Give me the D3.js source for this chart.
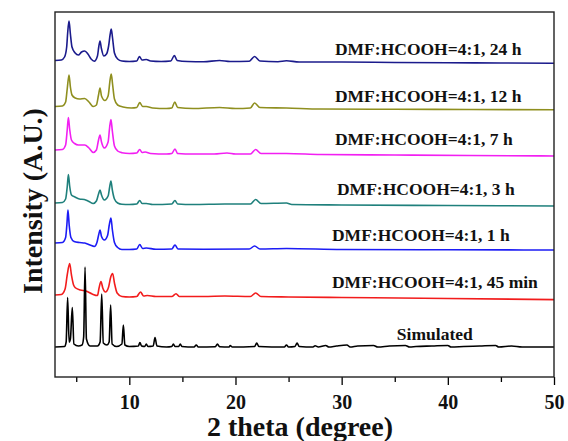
<html>
	<head>
		<meta charset="utf-8">
		<style>
			body { margin: 0; background: #fff; }
			svg text { font-family: "Liberation Serif", "Times New Roman", serif; font-weight: bold; }
		</style>
		<script type="text/javascript" src="https://cdn.jsdelivr.net/npm/d3@7/dist/d3.min.js"></script>
		<title>XRD patterns</title>
	</head>
	<body>
		<script type="text/javascript">
			// tick values (2 theta)
			var majorTicks = [10, 20, 30, 40, 50];
			var minorTicks = [5, 15, 25, 35, 45];

			// series, top to bottom
			var names = ["DMF:HCOOH=4:1, 24 h", "DMF:HCOOH=4:1, 12 h", "DMF:HCOOH=4:1, 7 h",
				"DMF:HCOOH=4:1, 3 h", "DMF:HCOOH=4:1, 1 h", "DMF:HCOOH=4:1, 45 min", "Simulated"];
			var colors = ["#1b1b8c", "#8f8f1f", "#f21ff2", "#1f807c", "#1c1cf5", "#f21c1c", "#000000"];
			// vertical offset of each pattern (stacked, arbitrary units)
			var offsets = [315, 268, 222, 172, 127.5, 80, 30];

			// [2theta, intensity]
			var s24h = [[3,1.5],[3.6,2],[3.9,5],[4.1,15],[4.2,30],[4.32,41],[4.45,28],[4.6,15],[4.9,9],[5.2,7],[5.5,10],[5.8,11],
				[6.1,8],[6.4,3],[6.7,0.8],[7.0,6],[7.12,15],[7.24,21],[7.36,14],[7.6,6],[7.85,8],[8.05,16],[8.2,28],[8.3,33],
				[8.42,24],[8.6,9],[8.9,3],[9.3,1],[10,0.5],[10.7,1],[10.95,5.5],[11.2,2],[11.6,2.5],[12,1],[13,0.5],[13.9,1],
				[14.25,6.5],[14.5,1.5],[15.5,0.5],[17,0.3],[18.5,1.5],[19.5,0.5],[21.3,0.8],[21.8,5.5],[22.3,1],[24,0.3],
				[24.8,1.2],[26,0],[30,0],[35,-0.5],[40,-0.8],[45,-1],[50,-1.3]];
			var s12h = [[3,2.5],[3.7,3],[4.0,7],[4.15,20],[4.32,34],[4.45,22],[4.6,14],[4.9,11],[5.3,10],[5.8,10.5],[6.2,7],
				[6.6,2.5],[6.9,4],[7.1,14],[7.24,21],[7.38,13],[7.7,8.5],[8.0,13],[8.2,30],[8.3,35],[8.42,25],[8.6,10],[8.9,4],
				[9.4,2],[10.2,1],[10.7,1.5],[10.98,6.5],[11.25,2.5],[11.6,2.5],[12.2,1],[13.5,0.5],[14.0,1],[14.28,7],[14.55,1.5],
				[16,0.5],[18.5,1.5],[20,0.5],[21.4,1],[21.8,6],[22.3,1.5],[24.8,1],[28,0],[35,-0.3],[42,-0.5],[50,-0.8]];
			var s7h = [[3,5],[3.7,5.5],[4.0,10],[4.15,25],[4.26,37.5],[4.38,26],[4.55,15],[4.85,11.5],[5.2,10],[5.8,10],[6.2,7],
				[6.6,2.5],[6.9,5],[7.1,15],[7.24,20],[7.38,13],[7.65,7],[8.0,13],[8.15,28],[8.27,35.5],[8.4,24],[8.6,9],[8.9,4],
				[9.3,2.3],[10,1.5],[10.7,2],[10.98,5.5],[11.2,2.5],[11.5,3],[12,1.5],[13.5,1],[14.0,1.5],[14.3,6],[14.55,1.5],
				[16,1],[18,1],[19.2,2],[20,1],[21.4,1],[21.9,5.5],[22.4,1.5],[24.8,1.5],[28,0.5],[35,0],[42,-0.5],[50,-1]];
			var s3h = [[3,2],[3.7,2.5],[4.0,6],[4.15,18],[4.26,30.5],[4.38,19],[4.55,10],[4.88,8],[5.3,6],[5.76,5.5],[6.2,3.5],
				[6.6,1.5],[6.9,4],[7.1,11],[7.24,15],[7.38,10],[7.65,5],[8.0,9],[8.15,18],[8.27,24],[8.4,15],[8.6,6],[8.9,2],
				[9.3,0.7],[10,0.5],[10.7,1],[10.98,4.5],[11.2,1.5],[11.6,1.5],[12.2,0.5],[14.0,1],[14.3,4.5],[14.55,1],[16,0.5],
				[19,1],[21.4,1],[21.9,5.5],[22.4,1.5],[24.8,2],[25.3,0.5],[30,0],[40,-0.5],[50,-1]];
			var s1h = [[3,6.5],[3.7,7],[4.0,12],[4.12,25],[4.22,39.5],[4.34,24],[4.5,12],[4.8,8],[5.3,7],[5.8,6.5],[6.3,4.5],
				[6.7,3],[6.95,7],[7.12,15],[7.24,19.5],[7.38,13],[7.65,9.5],[7.95,14],[8.12,25],[8.27,31.5],[8.4,20],[8.6,7],
				[8.9,2],[9.3,0],[10,0],[10.7,0.5],[10.98,5],[11.25,1],[11.6,1.5],[12.5,0.3],[14.0,0.5],[14.3,4.5],[14.6,0.5],
				[17,0.3],[21.3,0.5],[21.8,3.5],[22.3,0.5],[24.8,1],[30,0],[40,-0.3],[50,-0.5]];
			var s45m = [[3,2],[3.6,2.5],[3.95,8],[4.15,22],[4.38,33.5],[4.55,22],[4.75,12],[4.95,9],[5.4,7],[5.9,6],[6.5,3],
				[7.0,1.5],[7.15,9],[7.33,15.5],[7.5,9],[7.75,5],[8.05,10],[8.25,20],[8.43,23.5],[8.6,14],[8.85,4],[9.3,0.5],
				[10,0],[10.7,0.5],[11.05,5],[11.35,1],[11.7,1.5],[12.5,0.5],[14.0,0.5],[14.4,3.3],[14.7,0.5],[17,0.5],[19,1],
				[21.4,0.5],[21.9,4],[22.4,0.5],[25,0],[30,-0.5],[40,-1.5],[50,-2.6]];
			var sSim = [[3,0],[3.9,0.5],[4.05,5],[4.19,49.5],[4.33,5],[4.45,8],[4.63,39.5],[4.78,3],[5.2,1],[5.55,2],[5.7,10],
				[5.83,80],[5.96,8],[6.3,1],[7.0,1],[7.25,5],[7.4,53],[7.55,4],[7.9,2],[8.1,5],[8.24,42],[8.38,3],[8.8,0.5],
				[9.3,3],[9.44,22],[9.58,2],[10.0,0.5],[10.85,1],[11.0,4.5],[11.15,1],[11.45,0.5],[11.6,3],[11.75,0.5],[12.25,1],
				[12.42,9.5],[12.6,1],[13.5,0],[14.0,0.5],[14.15,3],[14.3,0.5],[14.65,0.5],[14.8,3],[14.95,0.5],[16.1,0],
				[16.3,2],[16.5,0],[18.1,0.3],[18.3,3],[18.5,0.3],[19.4,0],[19.5,1.5],[19.7,0],[21.8,0.5],[22.0,4],[22.2,0.5],
				[24.6,0],[24.8,2],[25.0,0],[25.6,0.5],[25.8,4],[26.0,0.5],[27.3,0],[27.5,1.2],[27.8,0],[28.5,1.5],[28.8,0],
				[29.5,1],[30.5,2],[30.8,0],[31.5,1],[33,1.5],[33.4,0],[34.5,1],[36,1.5],[36.4,0],[37,0.5],[38.5,1],[40,1.5],
				[40.3,0],[41.5,0.5],[43,1],[44.5,1.5],[44.8,0],[46,1],[47,0],[50,0]];
			var series = [s24h, s12h, s7h, s3h, s1h, s45m, sSim];

			// where each label sits: 2theta of its left edge, gap above the pattern baseline (px)
			var labelTheta = [29.37, 29.37, 29.37, 29.56, 29.09, 29.09, 35.2];
			var labelGap = [7, 7, 9.7, 10, 9, 9.4, 7.3];

			var w = 568;
			var h = 441;
			var mLeft = 55, mRight = 554, mTop = 12, mBottom = 377;

			var svg = d3.select("body")
				.append("svg")
				.attr("width", w)
				.attr("height", h);

			var x = d3.scaleLinear().domain([3, 50]).range([mLeft, mRight]);
			var y = d3.scaleLinear().domain([0, mBottom - mTop]).range([mBottom, mTop]);

			var line = d3.line()
				.x(function(d) { return x(d[0]); })
				.y(function(d) { return y(d[1] + d.off); })
				.curve(d3.curveMonotoneX);

			series.forEach(function(s, i) {
				var pts = s.map(function(p) { var q = [p[0], p[1]]; q.off = offsets[i]; return q; });
				svg.append("path")
					.attr("d", line(pts))
					.attr("fill", "none")
					.attr("stroke", colors[i])
					.attr("stroke-width", 1.6)
					.attr("stroke-linejoin", "round");

				svg.append("text")
					.attr("x", x(labelTheta[i]))
					.attr("y", y(offsets[i]) - labelGap[i])
					.attr("font-size", 17.5)
					.attr("fill", "#111")
					.text(names[i]);
			});

			// minor ticks
			svg.append("g")
				.attr("transform", "translate(0," + mBottom + ")")
				.call(d3.axisBottom(x).tickValues(minorTicks).tickSize(5).tickFormat(""))
				.call(function(g) { g.select(".domain").remove(); })
				.selectAll("line").attr("stroke-width", 1.3);

			// major ticks
			var ax = svg.append("g")
				.attr("transform", "translate(0," + mBottom + ")")
				.call(d3.axisBottom(x).tickValues(majorTicks).tickSize(8).tickPadding(10));
			ax.select(".domain").remove();
			ax.selectAll("line").attr("stroke-width", 1.3);
			ax.selectAll("text")
				.attr("font-size", 20)
				.attr("fill", "#111")
				.style("font-family", "'Liberation Serif', 'Times New Roman', serif")
				.style("font-weight", "bold");

			// frame
			svg.append("rect")
				.attr("x", mLeft)
				.attr("y", mTop)
				.attr("width", mRight - mLeft)
				.attr("height", mBottom - mTop)
				.attr("fill", "none")
				.attr("stroke", "#222")
				.attr("stroke-width", 1.4);

			svg.append("text")
				.attr("x", 300)
				.attr("y", 436)
				.attr("text-anchor", "middle")
				.attr("font-size", 28)
				.attr("fill", "#111")
				.text("2 theta (degree)");

			svg.append("text")
				.attr("transform", "translate(42,201) rotate(-90)")
				.attr("text-anchor", "middle")
				.attr("font-size", 28)
				.attr("fill", "#111")
				.text("Intensity (A.U.)");
		</script>
	</body>
</html>
